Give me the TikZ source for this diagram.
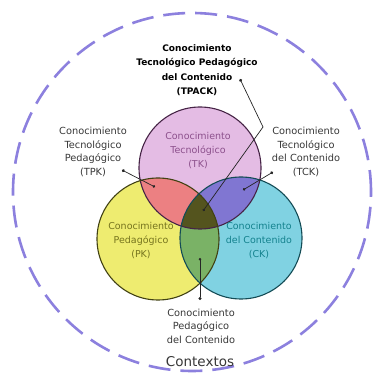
\documentclass[tikz,border=0pt]{standalone}
\usepackage{fontspec}
\setmainfont{DejaVu Sans}
\usetikzlibrary{arrows.meta}

% fills of the three circles and their overlaps
\definecolor{tkfill}{RGB}{228,188,228}
\definecolor{pkfill}{RGB}{238,236,112}
\definecolor{ckfill}{RGB}{128,210,226}
\definecolor{tpkfill}{RGB}{236,128,130}
\definecolor{tckfill}{RGB}{128,118,210}
\definecolor{pckfill}{RGB}{122,178,102}
\definecolor{tpackfill}{RGB}{84,84,30}
% outlines and texts
\definecolor{tkline}{RGB}{70,36,70}
\definecolor{pkline}{RGB}{66,66,20}
\definecolor{ckline}{RGB}{20,76,86}
\definecolor{tktext}{RGB}{140,80,140}
\definecolor{pktext}{RGB}{118,116,30}
\definecolor{cktext}{RGB}{20,130,142}
\definecolor{labelgray}{RGB}{55,55,55}
\definecolor{ctxline}{RGB}{140,128,222}

\begin{document}
\begin{tikzpicture}[x=1pt, y=1pt,
  outer/.style={align=center, text=labelgray, font=\fontsize{9.8}{13.6}\selectfont},
  inner/.style={align=center, font=\fontsize{9.5}{14}\selectfont},
  pointer/.style={draw=black!85, line width=0.7pt, {Circle[length=3pt]}-{Circle[length=2.6pt]}}]
  \useasboundingbox (0,0) rectangle (377,383);

  % Centres
  \coordinate (tk) at (200,215);
  \coordinate (pk) at (158,144);
  \coordinate (ck) at (241,145);

  % Contexts (dashed outer ring)
  \draw[ctxline, line width=2.6pt, dash pattern=on 22pt off 10pt] (192,191) circle (179);

  % Circles
  \fill[tkfill] (tk) circle (61);
  \fill[pkfill] (pk) circle (61);
  \fill[ckfill] (ck) circle (61);

  % Overlaps
  \begin{scope}
    \clip (tk) circle (61);
    \fill[tpkfill] (pk) circle (61);
    \fill[tckfill] (ck) circle (61);
  \end{scope}
  \begin{scope}
    \clip (pk) circle (61);
    \fill[pckfill] (ck) circle (61);
    \clip (ck) circle (61);
    \fill[tpackfill] (tk) circle (61);
  \end{scope}

  % Outlines
  \draw[tkline, line width=1.1pt] (tk) circle (61);
  \draw[pkline, line width=1.1pt] (pk) circle (61);
  \draw[ckline, line width=1.1pt] (ck) circle (61);

  % Labels inside the circles
  \node[inner, text=tktext] (tklabel) at (198,232) {Conocimiento\\Tecnológico\\(TK)};
  \node[inner, text=pktext] (pklabel) at (141,142) {Conocimiento\\Pedagógico\\(PK)};
  \node[inner, text=cktext] (cklabel) at (259,142) {Conocimiento\\del Contenido\\(CK)};

  % Labels outside
  \node[align=center, font=\bfseries\fontsize{9}{14.5}\selectfont] (tpack) at (197,313)
    {Conocimiento\\Tecnológico Pedagógico\\del Contenido\\(TPACK)};
  \node[outer] (tpk) at (93,231) {Conocimiento\\Tecnológico\\Pedagógico\\(TPK)};
  \node[outer] (tck) at (306,231) {Conocimiento\\Tecnológico\\del Contenido\\(TCK)};
  \node[outer] (pck) at (201,57) {Conocimiento\\Pedagógico\\del Contenido};
  \node[text=labelgray, font=\fontsize{13.5}{16}\selectfont] (ctx) at (200,21) {Contextos};

  % Pointers
  \coordinate (tpack-tip) at (240,304);
  \coordinate (tpack-bend) at (263,256);
  \coordinate (tpack-in) at (203,172);
  \coordinate (tpk-tip) at (122,213);
  \coordinate (tpk-in) at (155,196);
  \coordinate (tck-tip) at (273,211);
  \coordinate (tck-in) at (243,193);
  \coordinate (pck-tip) at (200,83);
  \coordinate (pck-in) at (200,125);
  \draw[pointer] (tpack-tip) -- (tpack-bend) -- (tpack-in);
  \draw[pointer] (tpk-tip) -- (tpk-in);
  \draw[pointer] (tck-tip) -- (tck-in);
  \draw[pointer] (pck-tip) -- (pck-in);
\end{tikzpicture}
\end{document}
